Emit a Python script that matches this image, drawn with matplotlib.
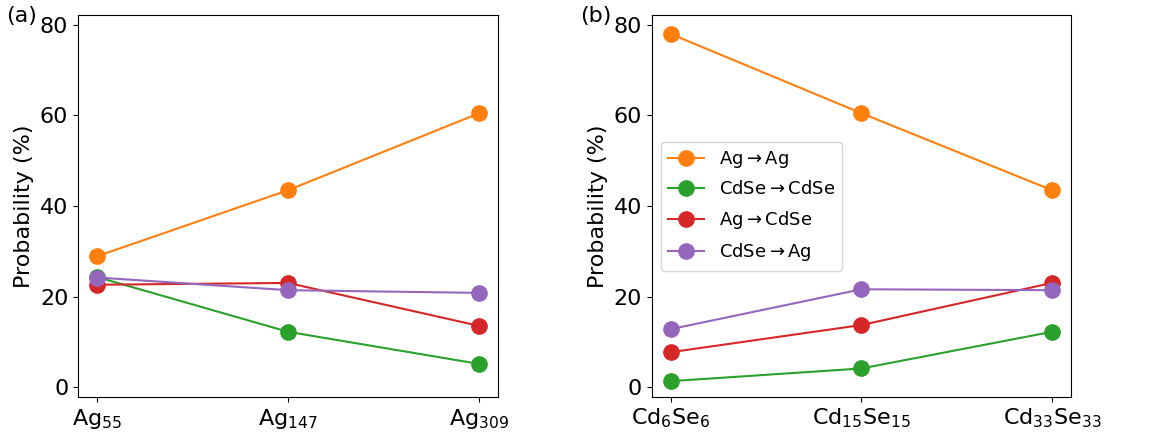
import matplotlib
matplotlib.use("Agg")
import matplotlib.pyplot as plt

ag_labels = [r"Ag$_{55}$", r"Ag$_{147}$", r"Ag$_{309}$"]
cdse_labels = [r"Cd$_6$Se$_6$", r"Cd$_{15}$Se$_{15}$", r"Cd$_{33}$Se$_{33}$"]

series_names = [r"Ag$\rightarrow$Ag", r"CdSe$\rightarrow$CdSe",
                r"Ag$\rightarrow$CdSe", r"CdSe$\rightarrow$Ag"]
series_colors = ["tab:orange", "tab:green", "tab:red", "tab:purple"]

# panel (a): Ag clusters
ag_ag = [28.9, 43.5, 60.5]
ag_cdse_cdse = [24.3, 12.2, 5.1]
ag_ag_cdse = [22.6, 23.0, 13.5]
ag_cdse_ag = [24.2, 21.4, 20.8]

# panel (b): CdSe clusters
cd_ag = [78.0, 60.5, 43.5]
cd_cdse_cdse = [1.3, 4.1, 12.2]
cd_ag_cdse = [7.7, 13.7, 23.0]
cd_cdse_ag = [12.8, 21.6, 21.4]

plt.rcParams["font.size"] = 16

fig = plt.figure(figsize=(11.61, 4.36), dpi=100)
ax1 = fig.add_axes([0.0672, 0.0895, 0.362, 0.875])
ax2 = fig.add_axes([0.5615, 0.0895, 0.361, 0.875])

panels = [
    (ax1, ag_labels, [ag_ag, ag_cdse_cdse, ag_ag_cdse, ag_cdse_ag], "(a)"),
    (ax2, cdse_labels, [cd_ag, cd_cdse_cdse, cd_ag_cdse, cd_cdse_ag], "(b)"),
]

for ax, labels, data, tag in panels:
    x = range(len(labels))
    for vals, name, color in zip(data, series_names, series_colors):
        ax.plot(x, vals, "-o", color=color, label=name, markersize=11, linewidth=1.5)
    ax.set_xticks(list(x))
    ax.set_xticklabels(labels)
    ax.set_xlim(-0.1, 2.1)
    ax.set_ylim(-2.2, 82.1)
    ax.set_yticks([0, 20, 40, 60, 80])
    ax.set_ylabel("Probability (%)", labelpad=4)
    ax.tick_params(labelsize=16)
    bbox = ax.get_position()
    fig.text(bbox.x0 - 0.062, 0.94, tag, fontsize=16, ha="left", va="bottom")

ax2.legend(loc="center left", fontsize=13, labelspacing=0.58)

fig.savefig("out.png", dpi=100)
